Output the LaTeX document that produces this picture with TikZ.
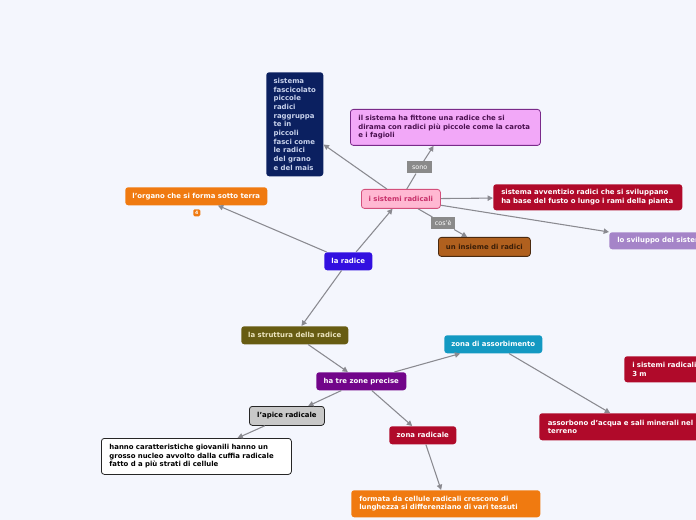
\documentclass[tikz,border=0pt]{standalone}
\usepackage{fontspec}
\setmainfont{DejaVu Sans}
\usetikzlibrary{arrows.meta,calc}
\definecolor{bg}{HTML}{F4F6FD}
\definecolor{navy}{HTML}{0B2060}
\definecolor{navytext}{HTML}{C8D2EC}
\definecolor{fitfill}{HTML}{F2A8F8}
\definecolor{fitline}{HTML}{7A2A8A}
\definecolor{fittext}{HTML}{4A1050}
\definecolor{lab}{HTML}{8A8A8A}
\definecolor{srfill}{HTML}{FFB8D2}
\definecolor{srline}{HTML}{D4507C}
\definecolor{srtext}{HTML}{C8306A}
\definecolor{redn}{HTML}{B00A2A}
\definecolor{lav}{HTML}{A584C8}
\definecolor{brownf}{HTML}{B0601E}
\definecolor{brownl}{HTML}{4A2A10}
\definecolor{brownt}{HTML}{3A1E08}
\definecolor{orangen}{HTML}{F07A10}
\definecolor{bluen}{HTML}{3210E0}
\definecolor{olive}{HTML}{675C12}
\definecolor{olivet}{HTML}{EDE6C0}
\definecolor{purplen}{HTML}{72058A}
\definecolor{tealn}{HTML}{1399C2}
\definecolor{grayn}{HTML}{C8C8C8}
\definecolor{edgec}{HTML}{8A8A90}
\begin{document}
\begin{tikzpicture}[x=0.75pt,y=-0.75pt,
  box/.style={rounded corners=2.2pt, inner sep=0pt, anchor=north west,
    font=\fontsize{5.2}{6.5}\selectfont\bfseries, text=white},
  sz/.style 2 args={minimum width=#1*0.75pt, minimum height=#2*0.75pt},
  lbl/.style={fill=lab, inner sep=0pt, anchor=north west, text=white,
    font=\fontsize{4.8}{5.5}\selectfont},
  conn/.style={draw=edgec, line width=0.8pt},
  edge/.style={conn, -{Triangle[length=4pt,width=4pt]}}]
\fill[bg] (0,0) rectangle (696,520);
\useasboundingbox (0,0) rectangle (696,520);
\clip (0,0) rectangle (696,520);

\node[box, fill=navy, text=navytext, sz={57}{104}, inner xsep=5.5pt, align=left] (fasc) at (266,72)
  {sistema\\fascicolato\\piccole\\radici\\raggruppa\\te in\\piccoli\\fasci come\\le radici\\del grano\\e del mais};
\node[box, fill=fitfill, draw=fitline, line width=0.6pt, text=fittext, sz={190}{36}, text width=130.5pt, align=left] (fit) at (350,109)
  {il sistema ha fittone una radice che si\\dirama con radici più piccole come la carota\\e i fagioli};
\node[lbl, sz={25}{12}] (sono) at (407,161) {sono};
\node[box, fill=srfill, draw=srline, line width=0.6pt, text=srtext, sz={79}{19}] (sr) at (361,189) {i sistemi radicali};
\node[box, fill=redn, sz={189}{26}, text width=129.75pt, align=left] (avv) at (493,184)
  {sistema avventizio radici che si sviluppano\\ha base del fusto o lungo i rami della pianta};
\node[box, fill=lav, sz={160}{17}, text width=108pt, align=left] (sv) at (609,232) {lo sviluppo del sistema};
\node[lbl, sz={24}{12}] (cos) at (431,217) {cos'è};
\node[box, fill=brownf, draw=brownl, line width=0.6pt, text=brownt, sz={92}{19}] (ins) at (438,237) {un insieme di radici};
\node[box, fill=orangen, sz={142}{18}] (org) at (125,187) {l'organo che si forma sotto terra};
\node[box, fill=orangen, rounded corners=1pt, sz={7}{7}, font=\fontsize{3.5}{4}\selectfont\bfseries] (badge) at (193,209) {4};
\node[box, fill=bluen, sz={48}{18}] (rad) at (324,252) {la radice};
\node[box, fill=olive, text=olivet, sz={107}{18}] (str) at (241,326) {la struttura della radice};
\node[box, fill=purplen, sz={90}{18}] (htz) at (316,372) {ha tre zone precise};
\node[box, fill=tealn, sz={98}{18}] (za) at (444,335) {zona di assorbimento};
\node[box, fill=redn, sz={120}{26}, text width=78pt, align=left] (sr3) at (624,356) {i sistemi radicali\\3 m};
\node[box, fill=redn, sz={171}{27}, text width=115.5pt, align=left] (ass) at (539,413)
  {assorbono d'acqua e sali minerali nel\\terreno};
\node[box, fill=grayn, draw=black!85, line width=0.6pt, text=black, sz={75}{19}] (api) at (249,406) {l'apice radicale};
\node[box, fill=white, draw=black!85, line width=0.6pt, text=black, sz={190}{36}, text width=130.5pt, align=left] (han) at (101,438)
  {hanno caratteristiche giovanili hanno un\\grosso nucleo avvolto dalla cuffia radicale\\fatto d a più strati di cellule};
\node[box, fill=redn, sz={67}{18}] (zrad) at (389,426) {zona radicale};
\node[box, fill=orangen, sz={189}{27}, text width=129.75pt, align=left] (form) at (351,490)
  {formata da cellule radicali crescono di\\lunghezza si differenziano di vari tessuti};

\draw[edge] (rad) -- (sr);
\draw[edge] (rad) -- (org);
\draw[edge] (rad) -- (str);
\draw[edge] (sr) -- (fasc);
\draw[conn] (sr) -- (sono);
\draw[edge] (sono) -- (fit);
\draw[edge] (sr) -- (avv);
\draw[edge] (sr) -- (sv.north west);
\draw[conn] (sr) -- (cos);
\draw[edge] (cos) -- (ins);
\draw[edge] (str) -- (htz);
\draw[edge] (htz) -- (za);
\draw[edge] (htz) -- (api);
\draw[edge] (htz) -- (zrad);
\draw[edge] (api) -- (han);
\draw[edge] (za) -- ([xshift=-11pt]ass.north);
\draw[edge] (zrad) -- (form);
\end{tikzpicture}
\end{document}
